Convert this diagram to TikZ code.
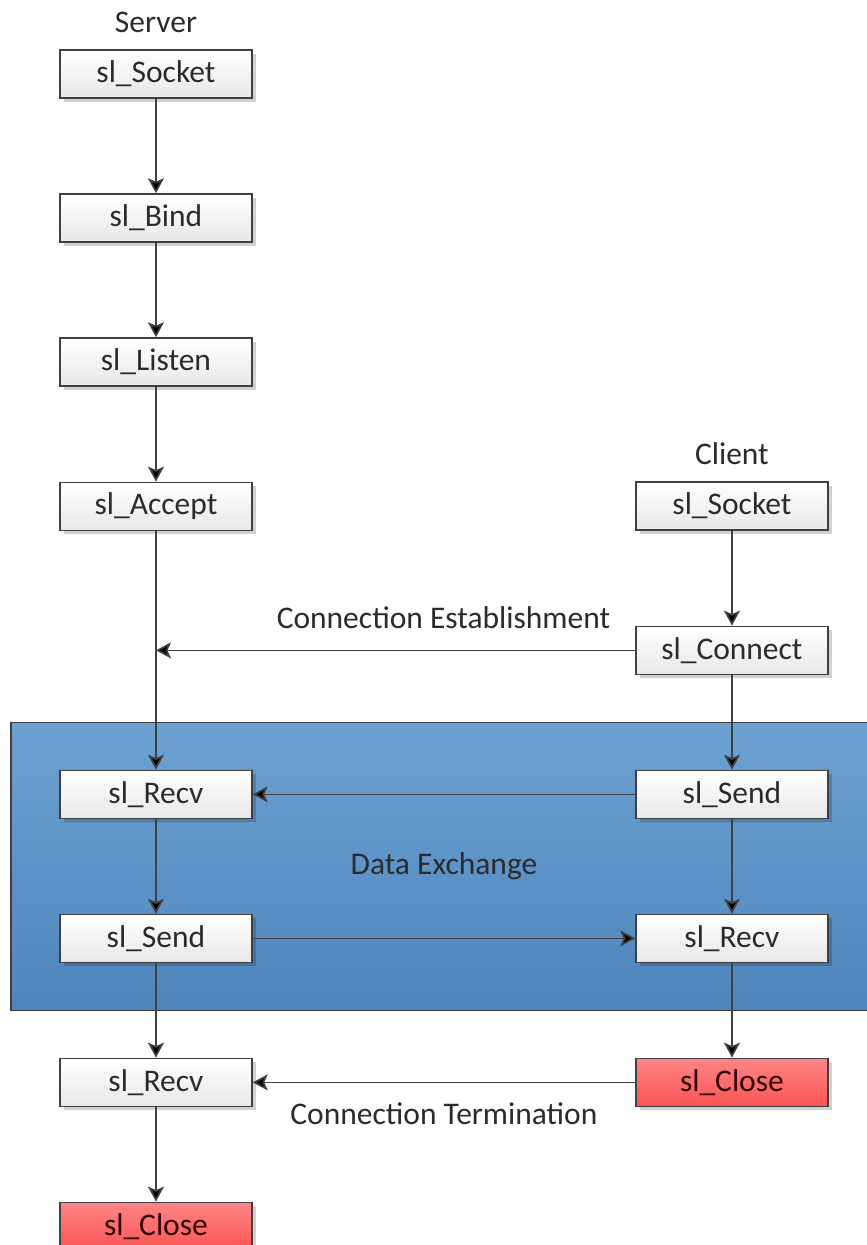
\documentclass[tikz,border=0pt]{standalone}
\usepackage{fontspec}
\setmainfont{Carlito}
\usetikzlibrary{matrix,arrows.meta,positioning,calc,backgrounds,shadows}
\definecolor{linegray}{HTML}{404040}
\definecolor{textgray}{HTML}{2B2B2B}
\definecolor{exchtop}{HTML}{6DA1D0}
\definecolor{exchbot}{HTML}{4E85BD}
\definecolor{closetop}{HTML}{FF8585}
\definecolor{closebot}{HTML}{F85454}
\tikzset{
  call/.style={draw=linegray, line width=1.5pt, top color=white, bottom color=black!9,
    minimum width=192pt, minimum height=48pt, inner sep=0pt, text=textgray,
    drop shadow={shadow xshift=4pt, shadow yshift=-4pt, fill=black, opacity=0.18}},
  closecall/.style={top color=closetop, bottom color=closebot, text=black!80!red},
  flow/.style={draw=linegray, line width=1.7pt, -{Stealth[length=15pt,width=16pt,inset=3.5pt]}},
  caption/.style={text=textgray, inner sep=0pt},
}

\begin{document}
\begin{tikzpicture}[x=1pt,y=1pt,font=\fontsize{31.5}{38}\selectfont]
  \useasboundingbox (0,0) rectangle (867,1245);
  \matrix (m) [matrix of nodes, nodes={call}, row sep=94.5pt, column sep=382.5pt,
    inner sep=0pt, anchor=north west] at (59,1196)
  {
     sl\_Socket & \\
     sl\_Bind & \\
     sl\_Listen & \\
     sl\_Accept & sl\_Socket \\
     & sl\_Connect \\
     sl\_Recv & sl\_Send \\
     sl\_Send & sl\_Recv \\
     sl\_Recv & |[closecall]| sl\_Close \\
     |[closecall]| sl\_Close & \\};
  \node[caption, above=17pt of m-1-1, anchor=base] (server) {Server};
  \node[caption, above=17pt of m-4-2, anchor=base] (client) {Client};
  \node[caption] (exch) at ($(m-6-1)!0.5!(m-7-2)$) {Data Exchange};
  \coordinate (est) at (m-4-1 |- m-5-2);
  \begin{scope}[on background layer]
    \draw[draw=linegray, line width=1.5pt, top color=exchtop, bottom color=exchbot]
      ($(m-6-1.west)+(-48,72)$) rectangle ($(m-7-2.east)+(60,-72)$);
  \end{scope}
  \path[flow]
    (m-1-1) edge (m-2-1)
    (m-2-1) edge (m-3-1)
    (m-3-1) edge (m-4-1)
    (m-4-1) edge (m-6-1)
    (m-6-1) edge (m-7-1)
    (m-7-1) edge (m-8-1)
    (m-8-1) edge (m-9-1)
    (m-4-2) edge (m-5-2)
    (m-5-2) edge (m-6-2)
    (m-6-2) edge (m-7-2)
    (m-7-2) edge (m-8-2)
    (m-5-2) edge node [caption, above=21pt, pos=0.4] {Connection Establishment} (est)
    (m-6-2) edge (m-6-1)
    (m-7-1) edge (m-7-2)
    (m-8-2) edge node [caption, below=19pt] {Connection Termination} (m-8-1);
\end{tikzpicture}
\end{document}
